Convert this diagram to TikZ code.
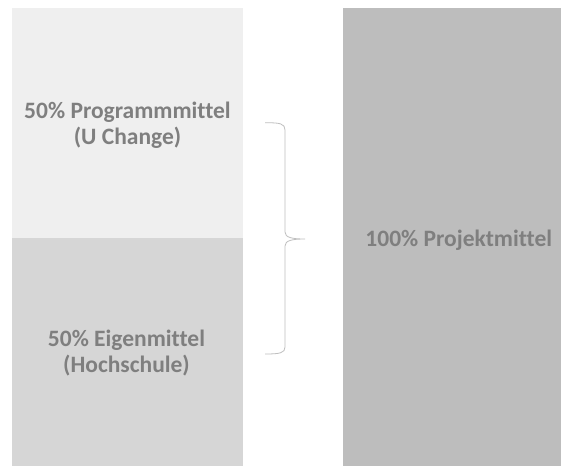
\documentclass[tikz,border=0pt]{standalone}
\usepackage{fontspec}
\setmainfont{Carlito}[Ligatures=NoCommon]
\definecolor{boxA}{HTML}{EFEFEF}
\definecolor{boxB}{HTML}{D6D6D6}
\definecolor{boxC}{HTML}{BDBDBD}
\definecolor{txt}{HTML}{7F7F7F}
\definecolor{bracec}{HTML}{BFBFBF}
\tikzset{
  block/.style={inner sep=0pt, outer sep=0pt, anchor=north west},
  lbl/.style={inner sep=0pt, outer sep=0pt, text=txt, font=\bfseries\fontsize{23.5}{26}\selectfont, anchor=base},
}
\begin{document}
\begin{tikzpicture}[x=1pt,y=-1pt]
\useasboundingbox[fill=white] (0,0) rectangle (561,466);
\node[block, fill=boxA, minimum width=231pt, minimum height=230pt] (prog) at (12,8) {};
\node[block, fill=boxB, minimum width=231pt, minimum height=228pt] (eigen) at (12,238) {};
\node[block, fill=boxC, minimum width=218pt, minimum height=458pt] (proj) at (343,8) {};
\node[lbl] (prog1) at (127.5,118.3) {50\% Programmmittel};
\node[lbl] (prog2) at (127.5,144.3) {(U Change)};
\node[lbl] (eigen1) at (126.5,346.7) {50\% Eigenmittel};
\node[lbl] (eigen2) at (126.5,372.7) {(Hochschule)};
\node[lbl] (projt) at (458.8,246.7) {100\% Projektmittel};
\coordinate (bt) at (265,122.7);
\coordinate (bb) at (265,354);
\coordinate (tip) at (305,239);
\draw[bracec, line width=0.8pt] (bt) .. controls (280,122.7) and (285,123.5) .. (285,130) -- (285,232)
  .. controls (285,237.5) and (292,239) .. (tip)
  .. controls (292,239) and (285,240.5) .. (285,246) -- (285,347)
  .. controls (285,353) and (280,354) .. (bb);
\end{tikzpicture}
\end{document}
